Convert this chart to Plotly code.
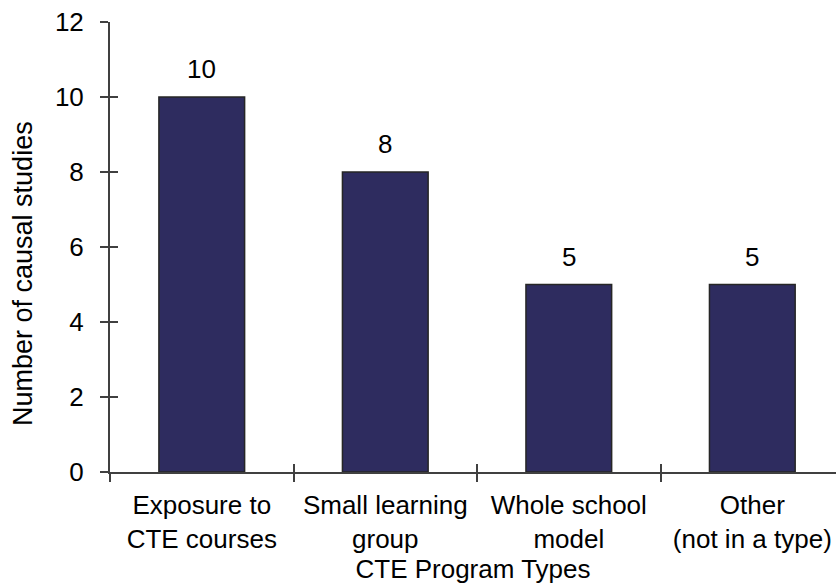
import plotly.graph_objects as go

categories = ["Exposure to<br>CTE courses", "Small learning<br>group", "Whole school<br>model", "Other<br>(not in a type)"]
counts = [10, 8, 5, 5]
y_ticks = [0, 2, 4, 6, 8, 10, 12]
boundaries = [-0.5, 0.5, 1.5, 2.5]

FONT = dict(family="Liberation Sans, Arial, sans-serif", size=26, color="#000000")
AXIS_COLOR = "#404040"

fig = go.Figure()
fig.add_trace(go.Bar(
    x=categories, y=counts,
    marker=dict(color="#2e2c5f", line=dict(color="#262626", width=1.5)),
    hoverinfo="skip", showlegend=False,
))
# invisible trace to create the overlay axes used for the inner half of the crossing ticks
fig.add_trace(go.Scatter(x=[], y=[], xaxis="x2", yaxis="y2", showlegend=False))

for c, v in zip(categories, counts):
    fig.add_annotation(x=c, y=v, text=str(v), showarrow=False, yanchor="bottom",
                       yshift=11, font=FONT)

# y-axis title (placed as annotation to match its off-centre position)
fig.add_annotation(text="Number of causal studies", textangle=-90, showarrow=False,
                   xref="paper", yref="paper", x=0, y=0.44, xanchor="center",
                   yanchor="middle", xshift=-87, font=dict(FONT, size=27))

fig.update_layout(
    width=836, height=584,
    margin=dict(l=110, r=0, t=22, b=112),
    paper_bgcolor="white", plot_bgcolor="white",
    font=FONT,
    bargap=0.533,
    xaxis=dict(
        range=[-0.5, 3.456], showgrid=False, zeroline=False,
        showline=True, linecolor=AXIS_COLOR, linewidth=2,
        ticks="outside", ticklen=8, tickwidth=2, tickcolor=AXIS_COLOR,
        tickson="boundaries", tickfont=FONT, ticklabelstandoff=9,
        ticklabeloverflow="allow",
        title=dict(text="CTE Program Types", font=FONT, standoff=2),
    ),
    yaxis=dict(
        range=[0, 12], tickvals=y_ticks, showgrid=False, zeroline=False,
        showline=True, linecolor=AXIS_COLOR, linewidth=2,
        ticks="outside", ticklen=8, tickwidth=2, tickcolor=AXIS_COLOR,
        tickfont=FONT, ticklabelstandoff=11, ticklabeloverflow="allow",
    ),
    xaxis2=dict(
        overlaying="x", anchor="y2", range=[-0.5, 3.456], tickvals=boundaries,
        ticks="inside", ticklen=8, tickwidth=2, tickcolor=AXIS_COLOR,
        showticklabels=False, showgrid=False, zeroline=False, showline=False,
    ),
    yaxis2=dict(
        overlaying="y", anchor="x2", range=[0, 12], tickvals=y_ticks,
        ticks="inside", ticklen=8, tickwidth=2, tickcolor=AXIS_COLOR,
        showticklabels=False, showgrid=False, zeroline=False, showline=False,
    ),
)

fig.write_html("out.html", config={"displayModeBar": False},
               post_script="document.body.style.margin='0';document.body.style.overflow='hidden';")
